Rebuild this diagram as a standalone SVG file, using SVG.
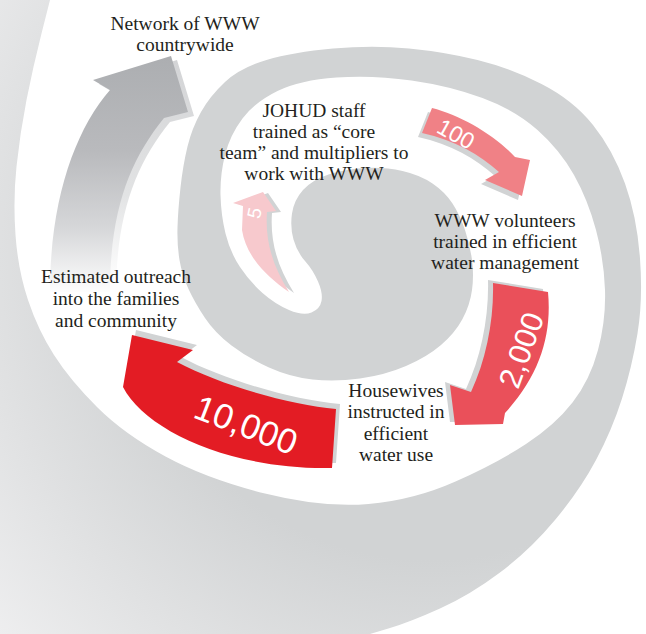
<svg xmlns="http://www.w3.org/2000/svg" width="646" height="634" viewBox="0 0 646 634">
<defs>
<radialGradient id="bandGrad" gradientUnits="userSpaceOnUse" cx="430" cy="260" r="600">
<stop offset="0" stop-color="#d1d3d4"/>
<stop offset="0.5" stop-color="#d1d3d4"/>
<stop offset="1" stop-color="#f1f1f2"/>
</radialGradient>
<linearGradient id="netGrad" gradientUnits="userSpaceOnUse" x1="0" y1="56" x2="0" y2="295">
<stop offset="0" stop-color="#acaeb1"/>
<stop offset="0.4" stop-color="#b9babd"/>
<stop offset="0.72" stop-color="#d6d7d9"/>
<stop offset="1" stop-color="#ffffff"/>
</linearGradient>
<linearGradient id="netShadow" gradientUnits="userSpaceOnUse" x1="0" y1="56" x2="0" y2="280">
<stop offset="0" stop-color="#d3d4d6"/>
<stop offset="0.6" stop-color="#e2e3e4"/>
<stop offset="1" stop-color="#ffffff"/>
</linearGradient>
</defs>
<style>
.lbl{font-family:"Liberation Serif","Times New Roman",serif;font-size:19.5px;fill:#231f20;text-anchor:middle}
.num{font-family:"Liberation Sans",Arial,sans-serif;fill:#ffffff;text-anchor:middle}
.shadow{fill:#d1d3d4}
</style>
<rect x="0" y="0" width="646" height="634" fill="url(#bandGrad)"/>
<path id="white-spiral" fill="#ffffff" d="M50,0 L41.5,33.5 Q33,67 26.5,100 Q20,133 16.5,166.5 Q13,200 15.5,235 Q18,270 28,300 Q38,330 54,355 Q70,380 97,407 Q124,434 165.5,456.5 Q207,479 265,493.5 Q323,508 368.5,504 Q414,500 455.5,481.5 Q497,463 526,444 Q555,425 572.5,402.5 Q590,380 598,350 Q606,320 605,290 Q604,260 596,230 Q588,200 574,175 Q560,150 537.5,130 Q515,110 482.5,98 Q450,86 411.5,80.5 Q373,75 336.5,77.5 Q300,80 277.5,91 Q255,102 242.5,118.5 Q230,135 225,155 Q220,175 220.5,195 Q221,215 225.5,233.5 Q230,252 240,267 Q250,282 262.5,293 Q275,304 289,310 Q303,316 311.5,312.5 Q320,309 321.5,301 Q323,293 318,281.5 Q313,270 305,261 Q297,252 293.5,239.5 Q290,227 292,213.5 Q294,200 303,190 Q312,180 328.5,174.5 Q345,169 365,168 Q385,167 402.5,171 Q420,175 432.5,183.5 Q445,192 452.5,203.5 Q460,215 465,230 Q470,245 472,260 Q474,275 472,290 Q470,305 462.5,319 Q455,333 441,345 Q427,357 406,366 Q385,375 360,378.5 Q335,382 312.5,379.5 Q290,377 269,367.5 Q248,358 231.5,345.5 Q215,333 205,318 Q195,303 188.5,289 Q182,275 179.5,260 Q177,245 177.5,227.5 Q178,210 180.5,187.5 Q183,165 187.5,146.5 Q192,128 201,112 Q210,96 225,82 Q240,68 266.5,60 Q293,52 333,48.5 Q373,45 409,48.5 Q445,52 477.5,60 Q510,68 541.5,84 Q573,100 593,125 Q613,150 625,183.5 Q637,217 640,258.5 Q643,300 637.5,333.5 Q632,367 622,398.5 Q612,430 596,460 Q580,490 555,520 Q530,550 500,572.5 Q470,595 440,608.5 Q410,622 390,628 L370,634 L646,634 L646,0 Z"/>

<g id="connectors">
<g id="arrow-network">
<path fill="url(#netShadow)" transform="translate(6,4)" d="M50,292 C50,200 75,130 110,90 L93,80 L171,56 L188,112 L164,118 C130,160 110,210 110,292 Z"/>
<path fill="url(#netGrad)" d="M50,292 C50,200 75,130 110,90 L93,80 L171,56 L188,112 L164,118 C130,160 110,210 110,292 Z"/>
</g>
<g id="arrow-5">
<path class="shadow" transform="translate(5,1)" d="M289,292 C266,276 246,256 242,230 L243,206 L233,203 L263,192 L276,211 L267,212 C265,240 272,265 289,292 Z"/>
<path fill="#f7c9cd" d="M289,292 C266,276 246,256 242,230 L243,206 L233,203 L263,192 L276,211 L267,212 C265,240 272,265 289,292 Z"/>
<text class="num" font-size="19" transform="translate(254,213) rotate(-78)" x="0" y="7">5</text>
</g>
<g id="arrow-100">
<path class="shadow" transform="translate(-4,4)" d="M432,108 C460,115 495,135 515,157 L530,160 L522,196 L485,180 L499,172 C480,155 455,140 422,133 Z"/>
<path fill="#f08186" d="M432,108 C460,115 495,135 515,157 L530,160 L522,196 L485,180 L499,172 C480,155 455,140 422,133 Z"/>
<text class="num" font-size="23" transform="translate(456,134) rotate(29)" x="0" y="8">100</text>
</g>
<g id="arrow-2000">
<path class="shadow" transform="translate(-5,-3)" d="M493,283 L548,292 C552,335 540,375 505,413 L503,424 L455,425 L450,385 L471,392 C486,360 494,320 493,283 Z"/>
<path fill="#ea505a" d="M493,283 L548,292 C552,335 540,375 505,413 L503,424 L455,425 L450,385 L471,392 C486,360 494,320 493,283 Z"/>
<text class="num" font-size="31" transform="translate(521,350) rotate(-70)" x="0" y="11">2,000</text>
</g>
<g id="arrow-10000">
<path class="shadow" transform="translate(4,-5)" d="M336,409 C290,405 220,385 177,362 L193,350 L132,335 L123,387 C145,430 230,470 332,468 Z"/>
<path fill="#e31c24" d="M336,409 C290,405 220,385 177,362 L193,350 L132,335 L123,387 C145,430 230,470 332,468 Z"/>
<text class="num" font-size="35" transform="translate(246,425) rotate(21)" x="0" y="12">10,000</text>
</g>
</g>

<g id="node-network">
<text class="lbl" x="185" y="30">Network of WWW</text>
<text class="lbl" x="185" y="51">countrywide</text>
</g>
<g id="node-johud">
<text class="lbl" x="314" y="117">JOHUD staff</text>
<text class="lbl" x="314" y="138">trained as “core</text>
<text class="lbl" x="314" y="159">team” and multipliers to</text>
<text class="lbl" x="314" y="180">work with WWW</text>
</g>
<g id="node-volunteers">
<text class="lbl" x="505" y="227">WWW volunteers</text>
<text class="lbl" x="505" y="248">trained in efficient</text>
<text class="lbl" x="505" y="269">water management</text>
</g>
<g id="node-housewives">
<text class="lbl" x="396" y="397">Housewives</text>
<text class="lbl" x="396" y="418">instructed in</text>
<text class="lbl" x="396" y="440">efficient</text>
<text class="lbl" x="396" y="461">water use</text>
</g>
<g id="node-outreach">
<text class="lbl" x="116" y="283">Estimated outreach</text>
<text class="lbl" x="116" y="305">into the families</text>
<text class="lbl" x="116" y="327">and community</text>
</g>
</svg>
